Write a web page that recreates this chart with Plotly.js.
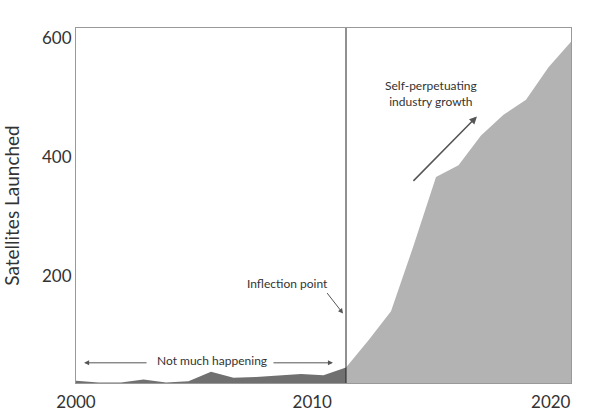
<!DOCTYPE html>
<html>
<head>
<meta charset="utf-8">
<script src="https://cdn.plot.ly/plotly-3.0.1.min.js"></script>
<style>html,body{margin:0;padding:0;background:#fff;}#chart{width:600px;height:413px;}</style>
</head>
<body>
<div id="chart"></div>
<script>
// Period index as year-like positions
const earlyYears = [2000,2001,2002,2003,2004,2005,2006,2007,2008,2009,2010,2011,2012];
const earlyLaunches = [23,20,20,25,20,22,38,28,29,31,34,32,45];
const lateYears = [2012,2013,2014,2015,2016,2017,2018,2019,2020,2021,2022];
const lateLaunches = [45,91,140,250,366,386,436,471,496,551,594];
const xTickVals = [2000,2010.5,2021.1];
const xTickText = ['2000','2010','2020'];
const yTickVals = [200,400,600];
const yTickText = ['200','400','600'];
const inflectionYear = 2012;

const font = 'Lato, "Open Sans", sans-serif';

const traces = [
  {x: earlyYears, y: earlyLaunches, type:'scatter', mode:'lines', fill:'tozeroy',
   line:{width:0, color:'#707070'}, fillcolor:'#707070', hoverinfo:'skip'},
  {x: lateYears, y: lateLaunches, type:'scatter', mode:'lines', fill:'tozeroy',
   line:{width:0, color:'#b3b3b3'}, fillcolor:'#b3b3b3', hoverinfo:'skip'}
];

const arrowColor = '#555';
const layout = {
  width:600, height:413,
  margin:{l:76, r:29, t:28, b:30},
  paper_bgcolor:'#fff', plot_bgcolor:'#fff',
  showlegend:false,
  font:{family:font, color:'#333'},
  xaxis:{range:[2000,2022], tickvals:xTickVals, ticktext:xTickText, ticks:'',
    showgrid:false, zeroline:false, showline:true, mirror:true, linecolor:'#999', linewidth:1,
    tickfont:{size:17, color:'#333'}, ticklabelstandoff:4},
  yaxis:{range:[19,617], tickvals:yTickVals, ticktext:yTickText, ticks:'',
    showgrid:false, zeroline:false, showline:true, mirror:true, linecolor:'#999', linewidth:1,
    tickfont:{size:17, color:'#333'},
    title:{text:'Satellites Launched', font:{size:19, color:'#333'}, standoff:18}},
  shapes:[{type:'line', xref:'x', yref:'paper', x0:inflectionYear, x1:inflectionYear, y0:0, y1:1,
    line:{color:'#222', width:1}}],
  annotations:[
    {x:2015.78, y:506, xref:'x', yref:'y', text:'Self-perpetuating<br>industry growth', showarrow:false,
     font:{size:12, color:'#333'}},
    {x:2017.82, y:468, ax:2014.93, ay:357, xref:'x', yref:'y', axref:'x', ayref:'y', text:'',
     showarrow:true, arrowhead:2, arrowsize:1, arrowwidth:1.5, arrowcolor:arrowColor},
    {x:2009.38, y:187, xref:'x', yref:'y', text:'Inflection point', showarrow:false,
     font:{size:12, color:'#333'}},
    {x:2011.87, y:136, ax:2011.11, ay:173, xref:'x', yref:'y', axref:'x', ayref:'y', text:'',
     showarrow:true, arrowhead:2, arrowsize:1, arrowwidth:1, arrowcolor:arrowColor},
    {x:2006.04, y:57, xref:'x', yref:'y', text:'Not much happening', showarrow:false,
     font:{size:12, color:'#333'}},
    {x:2000.36, y:53, ax:2003.2, ay:53, xref:'x', yref:'y', axref:'x', ayref:'y', text:'',
     showarrow:true, arrowhead:2, arrowsize:1, arrowwidth:1, arrowcolor:arrowColor},
    {x:2011.42, y:53, ax:2008.71, ay:53, xref:'x', yref:'y', axref:'x', ayref:'y', text:'',
     showarrow:true, arrowhead:2, arrowsize:1, arrowwidth:1, arrowcolor:arrowColor}
  ]
};
Plotly.newPlot('chart', traces, layout, {staticPlot:true, displayModeBar:false});
</script>
</body>
</html>
